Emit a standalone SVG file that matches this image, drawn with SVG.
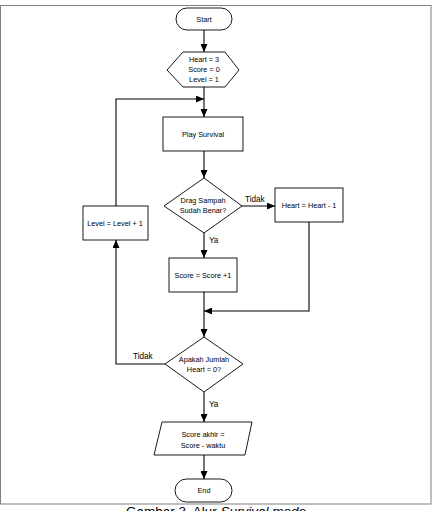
<svg xmlns="http://www.w3.org/2000/svg" width="432" height="511" viewBox="0 0 432 511">
<defs>
<marker id="arr" markerUnits="userSpaceOnUse" markerWidth="8" markerHeight="7" refX="8" refY="3.5" orient="auto">
<path d="M0,0 L8,3.5 L0,7 z" fill="#000"/>
</marker>
</defs>
<style>
.n{fill:#fff;stroke:#000;stroke-width:0.9}
.t{font-family:"Liberation Sans",Arial,sans-serif;font-size:7.3px;fill:#000;text-anchor:middle}
.l{font-family:"Liberation Sans",Arial,sans-serif;font-size:8.2px;fill:#000}
.c{fill:none;stroke:#000;stroke-width:1.1;marker-end:url(#arr)}
</style>
<rect x="0.5" y="5.5" width="430.5" height="498.5" fill="none" stroke="#808080" stroke-width="1"/>
<g id="connectors">
<path class="c" d="M204,30 V52"/>
<path class="c" d="M204,87 V117"/>
<path class="c" d="M116,206 V99 H204"/>
<path class="c" d="M204,151 V178"/>
<path class="c" d="M242,206 H275"/>
<path class="c" d="M204,233 V258"/>
<path class="c" d="M309,222 V311 H204"/>
<path class="c" d="M204,292 V337"/>
<path class="c" d="M165,364 H116 V240"/>
<path class="c" d="M204,392 V422"/>
<path class="c" d="M204,455 V479"/>
<text class="l" x="245" y="202">Tidak</text>
<text class="l" x="209" y="243">Ya</text>
<text class="l" x="133" y="359">Tidak</text>
<text class="l" x="209" y="407">Ya</text>
</g>
<g id="start">
<rect class="n" x="176" y="8" width="56" height="22" rx="11"/>
<text class="t" x="204" y="22">Start</text>
</g>
<g id="init">
<polygon class="n" points="183,52 225,52 239,70 225,87 183,87 167,70"/>
<text class="t" x="204" y="62">Heart = 3</text>
<text class="t" x="204" y="72">Score = 0</text>
<text class="t" x="204" y="82">Level = 1</text>
</g>
<g id="play">
<rect class="n" x="163" y="117" width="80" height="34"/>
<text class="t" x="203" y="137">Play Survival</text>
</g>
<g id="drag">
<polygon class="n" points="204,178 242,206 204,233 164,206"/>
<text class="t" x="203" y="203">Drag Sampah</text>
<text class="t" x="203" y="213">Sudah Benar?</text>
</g>
<g id="heartminus">
<rect class="n" x="275" y="188" width="68" height="34"/>
<text class="t" x="309" y="208">Heart = Heart - 1</text>
</g>
<g id="score">
<rect class="n" x="169" y="258" width="68" height="34"/>
<text class="t" x="203" y="278">Score = Score +1</text>
</g>
<g id="check">
<polygon class="n" points="204,337 243,364 204,392 165,364"/>
<text class="t" x="204" y="362">Apakah Jumlah</text>
<text class="t" x="204" y="372">Heart = 0?</text>
</g>
<g id="level">
<rect class="n" x="83" y="206" width="65" height="34"/>
<text class="t" x="115" y="226">Level = Level + 1</text>
</g>
<g id="final">
<polygon class="n" points="162,422 252,422 245,455 154,455"/>
<text class="t" x="203" y="437">Score akhir =</text>
<text class="t" x="203" y="448">Score - waktu</text>
</g>
<g id="end">
<rect class="n" x="175" y="479" width="57" height="23" rx="11.5"/>
<text class="t" x="204" y="493">End</text>
</g>
<text x="216" y="516" font-family="'Liberation Sans',Arial,sans-serif" font-size="13.5px" fill="#000" text-anchor="middle">Gambar 3. Alur <tspan font-style="italic">Survival mode</tspan></text>
</svg>
